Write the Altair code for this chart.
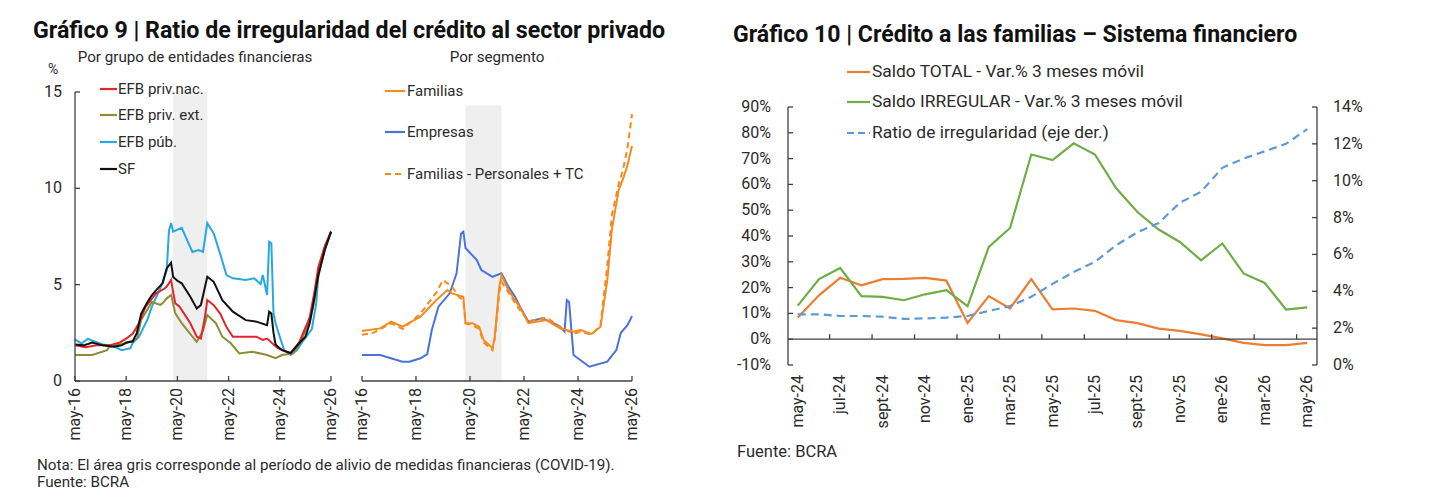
import altair as alt
import pandas as pd

FONT = "Roboto"
TXT = "#2b2b2b"
AX = "#404040"

# ---------------- Gráfico 9 — panel 1: Por grupo de entidades financieras ----------------
nac_dates = ["2016-05","2016-10","2017-03","2017-09","2018-02","2018-05","2018-08","2018-11","2019-02","2019-07",
             "2019-11","2019-12","2020-02","2020-03","2020-04","2020-06","2020-11","2021-02","2021-04","2021-06",
             "2021-07","2021-10","2022-01","2022-04","2022-07","2023-01","2023-06","2023-09","2023-11","2024-04",
             "2024-10","2025-02","2025-07","2025-09","2025-11","2026-02","2026-05"]
nac_vals = [1.85,1.75,1.85,1.85,2.0,2.2,2.45,3.0,3.85,4.55,4.8,4.9,5.24,4.6,4.03,3.86,3.0,2.3,2.2,3.4,
            4.2,3.94,3.5,2.8,2.3,2.3,2.3,2.13,2.2,1.7,1.45,2.0,3.3,4.5,5.9,7.0,7.75]

ext_dates = ["2016-05","2017-01","2017-08","2017-09","2018-05","2018-10","2018-12","2019-05","2019-09","2019-10",
             "2019-12","2020-02","2020-04","2020-07","2020-12","2021-02","2021-05","2021-07","2021-11","2022-02",
             "2022-06","2022-10","2023-04","2023-11","2024-03","2024-06","2024-11","2025-02","2025-07","2025-09",
             "2025-11","2026-02","2026-05"]
ext_vals = [1.35,1.35,1.6,1.78,1.96,2.2,3.16,4.1,3.95,4.03,4.29,4.46,3.51,3.0,2.3,2.04,2.6,3.42,3.0,2.3,
            1.96,1.43,1.52,1.35,1.18,1.35,1.43,1.9,3.1,4.1,5.5,6.8,7.7]

pub_dates = ["2016-05","2016-08","2016-11","2017-01","2017-06","2017-11","2018-03","2018-07","2018-08","2018-11",
             "2019-03","2019-05","2019-10","2019-12","2020-01","2020-02","2020-03","2020-07","2020-12","2021-03",
             "2021-05","2021-07","2021-10","2022-01","2022-04","2022-07","2023-01","2023-05","2023-08","2023-09",
             "2023-11","2023-12","2024-01","2024-02","2024-03","2024-05","2024-07","2024-10","2025-01","2025-04",
             "2025-08","2025-10","2025-11","2026-02","2026-05"]
pub_vals = [2.16,1.95,2.2,2.1,1.9,1.8,1.6,1.7,1.97,2.3,3.2,3.85,5.07,5.76,7.8,8.2,7.75,7.95,6.7,6.8,
            6.7,8.2,7.66,6.6,5.5,5.33,5.24,5.33,5.03,5.5,4.46,7.23,7.15,3.5,3.0,2.3,1.6,1.35,1.6,2.1,
            2.7,4.0,5.4,6.9,7.75]

sf_dates = ["2016-05","2016-09","2017-01","2017-06","2017-11","2018-03","2018-05","2018-08","2018-10","2018-12",
            "2019-03","2019-05","2019-07","2019-10","2019-12","2020-02","2020-03","2020-05","2020-07","2020-11",
            "2021-02","2021-04","2021-07","2021-10","2022-02","2022-07","2023-01","2023-06","2023-11","2023-12",
            "2024-01","2024-02","2024-03","2024-06","2024-10","2025-02","2025-05","2025-07","2025-09","2025-11",
            "2026-02","2026-05"]
sf_vals = [1.9,1.85,2.0,1.85,1.78,1.85,2.0,2.05,2.5,3.5,4.1,4.45,4.7,5.07,5.85,6.14,5.4,5.2,5.07,4.37,
           3.77,3.94,5.41,5.15,4.2,3.6,3.16,3.08,2.9,3.6,3.5,2.5,1.9,1.6,1.45,1.96,2.3,3.0,4.2,5.5,
           6.8,7.75]

# ---------------- Gráfico 9 — panel 2: Por segmento ----------------
fam_dates = ["2016-05","2017-01","2017-06","2017-11","2018-07","2019-02","2019-07","2019-09","2020-02","2020-03",
             "2020-06","2020-09","2020-11","2021-03","2021-04","2021-06","2021-07","2021-10","2022-03","2022-07",
             "2023-03","2023-09","2024-03","2024-06","2024-11","2025-03","2025-06","2025-08","2025-11","2026-01",
             "2026-03","2026-05"]
fam_vals = [2.6,2.73,3.08,2.82,3.34,4.2,4.72,4.55,4.37,3.0,3.0,2.82,2.13,1.7,2.3,4.9,5.5,4.72,3.86,3.0,
            3.16,2.73,2.56,2.65,2.44,2.82,5.24,7.84,9.9,10.5,11.2,12.2]

emp_dates = ["2016-05","2017-01","2017-11","2018-02","2018-07","2018-10","2018-12","2019-03","2019-08","2019-11",
             "2020-01","2020-02","2020-03","2020-08","2020-10","2021-03","2021-07","2021-10","2022-01","2022-04",
             "2022-07","2023-01","2023-06","2023-09","2023-11","2023-12","2024-01","2024-02","2024-03","2024-10",
             "2025-06","2025-10","2025-12","2026-03","2026-05"]
emp_vals = [1.35,1.35,1.0,1.0,1.18,1.4,2.65,3.86,4.55,5.59,7.66,7.75,6.9,6.28,5.76,5.41,5.59,4.9,4.37,3.68,
            3.08,3.25,3.0,2.82,2.56,4.2,4.1,2.65,1.35,0.74,1.0,1.6,2.5,2.9,3.37]

ptc_dates = ["2016-05","2016-10","2017-06","2017-11","2018-07","2019-02","2019-05","2019-09","2019-12","2020-02",
             "2020-03","2020-06","2020-09","2020-11","2021-03","2021-04","2021-06","2021-07","2021-10","2022-03",
             "2022-07","2023-03","2023-09","2024-03","2024-06","2024-11","2025-03","2025-06","2025-08","2025-11",
             "2026-01","2026-03","2026-05"]
ptc_vals = [2.4,2.5,3.0,2.7,3.5,4.6,5.24,4.9,4.37,4.2,3.0,2.9,2.7,2.0,1.6,2.2,4.6,5.15,4.6,3.7,
            3.1,3.3,2.8,2.45,2.55,2.4,2.9,6.0,8.6,10.2,11.0,12.1,13.85]

band_start, band_end = "2020-03", "2021-07"
band_top1, band_top2 = 15, 14.3

# ---------------- Gráfico 10 ----------------
months_r = ["may-24","jun-24","jul-24","ago-24","sept-24","oct-24","nov-24","dic-24","ene-25","feb-25",
            "mar-25","abr-25","may-25","jun-25","jul-25","ago-25","sept-25","oct-25","nov-25","dic-25",
            "ene-26","feb-26","mar-26","abr-26","may-26"]
total_vals = [8.4,17,23.8,20.9,23.3,23.4,23.8,22.7,6.3,16.7,11.9,23.3,11.6,11.9,11,7.4,6.2,4.1,3.2,1.9,
              0.3,-1.4,-2.3,-2.3,-1.4]
irreg_vals = [13,23.3,27.6,16.7,16.4,15.1,17.4,19,12.8,35.8,43.1,71.6,69.4,75.9,71.6,58.5,49.3,42.5,37.7,30.6,
              37.1,25.5,21.8,11.5,12.3]
ratio_vals = [2.75,2.75,2.66,2.66,2.62,2.5,2.53,2.57,2.66,2.93,3.2,3.7,4.4,5.05,5.6,6.5,7.2,7.7,8.8,9.4,
              10.7,11.2,11.6,12.0,12.8]

names1 = ["EFB priv.nac.", "EFB priv. ext.", "EFB púb.", "SF"]
colors1 = ["#E3242B", "#8B8E34", "#29A8E0", "#111111"]
names2 = ["Familias", "Empresas", "Familias - Personales + TC"]
colors2 = ["#F58A1F", "#4A73D9", "#F58A1F"]
names3 = ["Saldo TOTAL - Var.% 3 meses móvil", "Saldo IRREGULAR - Var.% 3 meses móvil",
          "Ratio de irregularidad (eje der.)"]
colors3 = ["#ED7D31", "#70AD47", "#5B9BD5"]

tick_years = [2016, 2018, 2020, 2022, 2024, 2026]
xlabels_l = ["may-16", "may-18", "may-20", "may-22", "may-24", "may-26"]
yticks_l = [0, 5, 10, 15]
ylabels_l = ["0", "5", "10", "15"]
yticks_rl = list(range(-10, 91, 10))
ylabels_rl = ["-10%", "0%", "10%", "20%", "30%", "40%", "50%", "60%", "70%", "80%", "90%"]
yticks_rr = list(range(0, 15, 2))
ylabels_rr = ["0%", "2%", "4%", "6%", "8%", "10%", "12%", "14%"]

# ---------------- helpers ----------------
def dt(s):
    return pd.to_datetime(s, format="%Y-%m")

def label(text, x, y, size=15, weight="normal", align="left", color=TXT):
    return alt.Chart(pd.DataFrame({"t": [text]})).mark_text(
        align=align, baseline="middle", fontSize=size, fontWeight=weight, font=FONT, color=color
    ).encode(x=alt.value(x), y=alt.value(y), text="t:N")

def key(x1, x2, y, color, dash=None, width=2.2):
    mk = dict(color=color, strokeWidth=width)
    if dash:
        mk["strokeDash"] = dash
    return alt.Chart(pd.DataFrame({"k": [0]})).mark_rule(**mk).encode(
        x=alt.value(x1), x2=alt.value(x2), y=alt.value(y))

W1, W2, H = 256, 270, 289
x_start, x_end = pd.Timestamp(2016, 5, 1), pd.Timestamp(2026, 5, 1)
xs_l = alt.Scale(domain=[alt.DateTime(year=2016, month=5, date=1), alt.DateTime(year=2026, month=5, date=1)])
ys_l = alt.Scale(domain=[0, 15], nice=False, zero=False)

def line_l(dates, vals, color, dash=None, width=2.0):
    df = pd.DataFrame({"date": dt(dates), "v": vals})
    mk = dict(color=color, strokeWidth=width)
    if dash:
        mk["strokeDash"] = dash
    return alt.Chart(df).mark_line(**mk).encode(
        x=alt.X("date:T", scale=xs_l, axis=None), y=alt.Y("v:Q", scale=ys_l, axis=None))

def band_l(top):
    df = pd.DataFrame({"s": [dt(band_start)], "e": [dt(band_end)], "lo": [0], "hi": [top]})
    return alt.Chart(df).mark_rect(color="#EFEFEF").encode(
        x=alt.X("s:T", scale=xs_l, axis=None), x2="e:T",
        y=alt.Y("lo:Q", scale=ys_l, axis=None), y2="hi:Q")

def xaxis_l():
    base = pd.DataFrame({"a": [x_start], "b": [x_end], "z": [0]})
    line = alt.Chart(base).mark_rule(color=AX, strokeWidth=1.3).encode(
        x=alt.X("a:T", scale=xs_l, axis=None), x2="b:T", y=alt.Y("z:Q", scale=ys_l, axis=None))
    df = pd.DataFrame({"d": [pd.Timestamp(year=y, month=5, day=1) for y in tick_years], "s": xlabels_l})
    ticks = alt.Chart(df).mark_rule(color=AX, strokeWidth=1.3).encode(
        x=alt.X("d:T", scale=xs_l, axis=None), y=alt.value(H), y2=alt.value(H - 5))
    labs = alt.Chart(df).mark_text(angle=270, align="right", baseline="middle", fontSize=16,
                                   font=FONT, color=TXT).encode(
        x=alt.X("d:T", scale=xs_l, axis=None), y=alt.value(H + 7), text="s:N")
    return [line, ticks, labs]

yt_df = pd.DataFrame({"t": yticks_l, "s": ylabels_l})
yline1 = alt.Chart(pd.DataFrame({"lo": [0], "hi": [15]})).mark_rule(color=AX, strokeWidth=1.3).encode(
    x=alt.value(0), y=alt.Y("lo:Q", scale=ys_l, axis=None), y2="hi:Q")
yt1 = alt.Chart(yt_df).mark_rule(color=AX, strokeWidth=1.3).encode(
    x=alt.value(0), x2=alt.value(5), y=alt.Y("t:Q", scale=ys_l, axis=None))
yl1 = alt.Chart(yt_df).mark_text(align="right", baseline="middle", fontSize=16, font=FONT, color=TXT).encode(
    x=alt.value(-13), y=alt.Y("t:Q", scale=ys_l, axis=None), text="s:N")

anchor = alt.Chart(pd.DataFrame({"k": [0]})).mark_rule(color="white", strokeWidth=1).encode(
    x=alt.value(-74.5), x2=alt.value(-73.5), y=alt.value(-91.5))

leg1_y = [-3, 23, 50, 77]
leg1 = []
for n, c, yy in zip(names1, colors1, leg1_y):
    leg1 += [key(25, 42, yy, c), label(n, 43, yy, size=15)]

p1 = alt.layer(
    anchor,
    band_l(band_top1),
    line_l(pub_dates, pub_vals, colors1[2]),
    line_l(ext_dates, ext_vals, colors1[1]),
    line_l(nac_dates, nac_vals, colors1[0]),
    line_l(sf_dates, sf_vals, colors1[3]),
    *xaxis_l(), yline1, yt1, yl1,
    *leg1,
    label("Gráfico 9 | Ratio de irregularidad del crédito al sector privado", -42, -61, size=23.2,
          weight="bold", color="#111111"),
    label("Por grupo de entidades financieras", 120, -35, size=15.2, align="center"),
    label("%", -22, -22, size=14, align="center"),
    label("Nota: El área gris corresponde al período de alivio de medidas financieras (COVID-19).",
          -38, 373, size=15.2),
    label("Fuente: BCRA", -38, 390, size=15.2),
).properties(width=W1, height=H)

leg2_y = [-1, 40, 82]
leg2 = []
for i, (n, c, yy) in enumerate(zip(names2, colors2, leg2_y)):
    leg2 += [key(23, 43, yy, c, dash=[6, 4] if i == 2 else None), label(n, 45, yy, size=15)]

p2 = alt.layer(
    band_l(band_top2),
    line_l(emp_dates, emp_vals, colors2[1]),
    line_l(fam_dates, fam_vals, colors2[0]),
    line_l(ptc_dates, ptc_vals, colors2[2], dash=[6, 4]),
    *xaxis_l(),
    *leg2,
    label("Por segmento", 135, -35, size=15.2, align="center"),
).properties(width=W2, height=H)

# ---------------- right chart ----------------
WR, HR = 529, 273
xs_r = alt.Scale(domain=[-0.46, 24.46], nice=False, zero=False)
ys_rl = alt.Scale(domain=[-10, 90], range=[HR, 15], nice=False, zero=False)
ys_rr = alt.Scale(domain=[0, 14], range=[HR, 15], nice=False, zero=False)

df_r = pd.DataFrame({"i": list(range(len(months_r))), "m": months_r,
                     "tot": total_vals, "irr": irreg_vals, "rat": ratio_vals})

tot_line = alt.Chart(df_r).mark_line(color=colors3[0], strokeWidth=2.2).encode(
    x=alt.X("i:Q", scale=xs_r, axis=None), y=alt.Y("tot:Q", scale=ys_rl, axis=None))
irr_line = alt.Chart(df_r).mark_line(color=colors3[1], strokeWidth=2.2).encode(
    x=alt.X("i:Q", scale=xs_r, axis=None), y=alt.Y("irr:Q", scale=ys_rl, axis=None))
zero = alt.Chart(pd.DataFrame({"a": [-0.46], "b": [24.46], "z": [0]})).mark_rule(
    color=AX, strokeWidth=1.3).encode(
    x=alt.X("a:Q", scale=xs_r, axis=None), x2="b:Q", y=alt.Y("z:Q", scale=ys_rl, axis=None))
xt_r = alt.Chart(pd.DataFrame({"b": [k + 0.5 for k in range(1, 24, 2)], "z": 0})).mark_rule(
    color=AX, strokeWidth=1.3, yOffset=-5).encode(
    x=alt.X("b:Q", scale=xs_r, axis=None), y=alt.Y("z:Q", scale=ys_rl, axis=None), y2="z:Q")
yline_rl = alt.Chart(pd.DataFrame({"lo": [-10], "hi": [90]})).mark_rule(color=AX, strokeWidth=1.3).encode(
    x=alt.value(0), y=alt.Y("lo:Q", scale=ys_rl, axis=None), y2="hi:Q")
yrl_df = pd.DataFrame({"t": yticks_rl, "s": ylabels_rl})
yt_rl = alt.Chart(yrl_df).mark_rule(color=AX, strokeWidth=1.3).encode(
    x=alt.value(0), x2=alt.value(5), y=alt.Y("t:Q", scale=ys_rl, axis=None))
yl_rl = alt.Chart(yrl_df).mark_text(align="right", baseline="middle", fontSize=16, font=FONT,
                                    color=TXT).encode(
    x=alt.value(-17), y=alt.Y("t:Q", scale=ys_rl, axis=None), text="s:N")
left_group = alt.layer(tot_line, irr_line, zero, xt_r, yline_rl, yt_rl, yl_rl)

rat_line = alt.Chart(df_r).mark_line(color=colors3[2], strokeWidth=2.2, strokeDash=[8, 5]).encode(
    x=alt.X("i:Q", scale=xs_r, axis=None), y=alt.Y("rat:Q", scale=ys_rr, axis=None))
yline_rr = alt.Chart(pd.DataFrame({"lo": [0], "hi": [14]})).mark_rule(color=AX, strokeWidth=1.3).encode(
    x=alt.value(WR), y=alt.Y("lo:Q", scale=ys_rr, axis=None), y2="hi:Q")
yrr_df = pd.DataFrame({"t": yticks_rr, "s": ylabels_rr})
yt_rr = alt.Chart(yrr_df).mark_rule(color=AX, strokeWidth=1.3).encode(
    x=alt.value(WR - 5), x2=alt.value(WR), y=alt.Y("t:Q", scale=ys_rr, axis=None))
yl_rr = alt.Chart(yrr_df).mark_text(align="left", baseline="middle", fontSize=16, font=FONT,
                                    color=TXT).encode(
    x=alt.value(WR + 16), y=alt.Y("t:Q", scale=ys_rr, axis=None), text="s:N")
right_group = alt.layer(rat_line, yline_rr, yt_rr, yl_rr)

xl_r = alt.Chart(df_r.iloc[::2]).mark_text(angle=270, align="right", baseline="middle", fontSize=16,
                                           font=FONT, color=TXT).encode(
    x=alt.X("i:Q", scale=xs_r, axis=None), y=alt.value(HR + 10), text="m:N")

leg3_y = [-20, 10, 41]
leg3 = []
for i, (n, c, yy) in enumerate(zip(names3, colors3, leg3_y)):
    leg3 += [key(59, 82, yy, c, dash=[7, 4] if i == 2 else None), label(n, 84, yy, size=17.4)]

pr = alt.layer(
    left_group, right_group, xl_r, *leg3,
    label("Gráfico 10 | Crédito a las familias – Sistema financiero", -55, -57, size=23.1,
          weight="bold", color="#111111"),
    label("Fuente: BCRA", -51, 360, size=16.5),
).resolve_scale(y="independent").properties(width=WR, height=HR)

spacer = alt.Chart(pd.DataFrame({"k": [0]})).mark_rule(color="white", opacity=0).encode(
    x=alt.value(0), x2=alt.value(1), y=alt.value(0)).properties(width=94, height=10)

chart = alt.hconcat(p1, p2, spacer, pr, spacing=31, bounds="flush").properties(
    padding={"left": 0, "top": 0, "right": 5, "bottom": 5}
).configure(font=FONT).configure_view(strokeWidth=0)

chart.save("out.html", embed_options={"renderer": "svg", "actions": False})
